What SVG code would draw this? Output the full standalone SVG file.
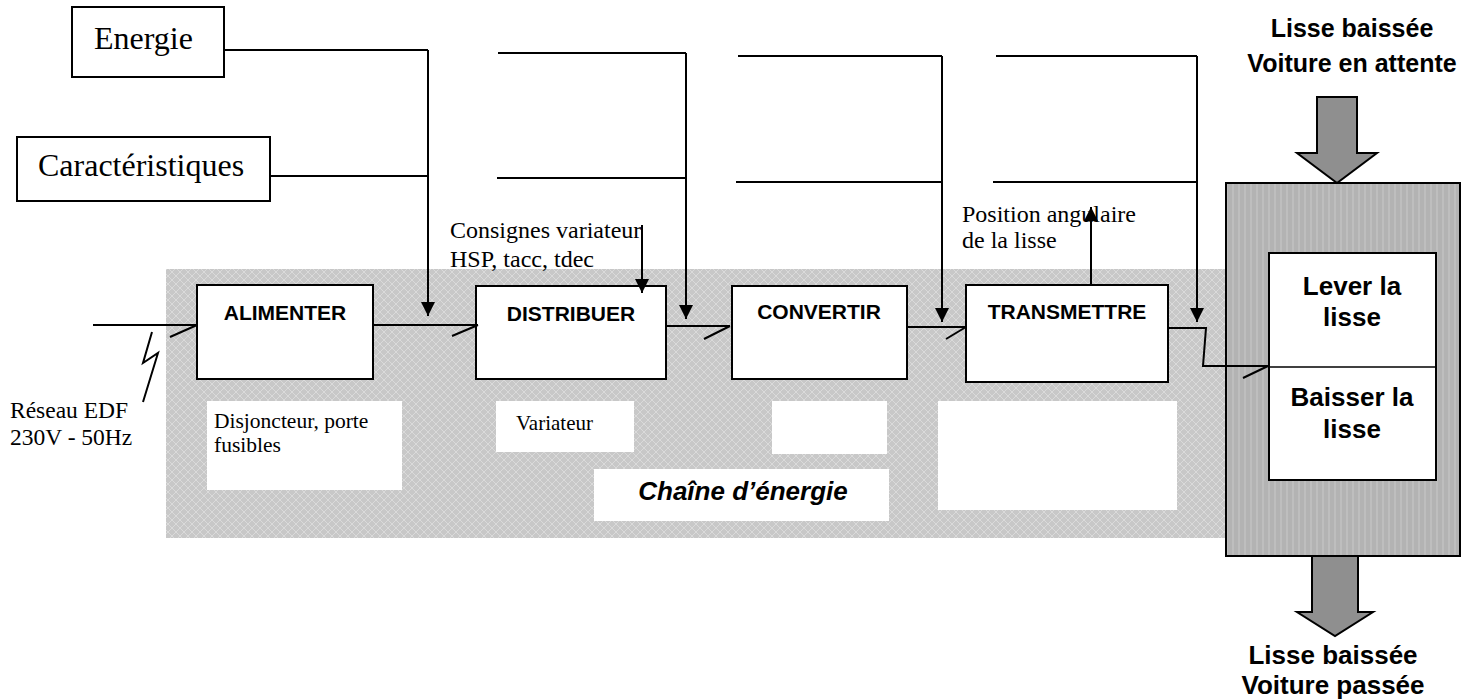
<svg xmlns="http://www.w3.org/2000/svg" width="1483" height="700" viewBox="0 0 1483 700">
<defs>
<style>
.box{fill:#fff;stroke:#000;stroke-width:2}
.ln{fill:none;stroke:#000;stroke-width:2}
.note{fill:#fff}
.serif{font-family:"Liberation Serif","Times New Roman",serif;fill:#000}
.sans{font-family:"Liberation Sans",Arial,sans-serif;font-weight:bold;fill:#000}
.big{fill:#8f8f8f;stroke:#000;stroke-width:2}
</style>
<pattern id="band" width="8" height="8" patternUnits="userSpaceOnUse">
<rect width="8" height="8" fill="#c8c8c8"/>
<path d="M0,4 L4,0 L8,4 L4,8 Z" fill="none" stroke="#dadada" stroke-width="1"/>
</pattern>
<pattern id="stripes" width="6" height="6" patternUnits="userSpaceOnUse">
<rect width="6" height="6" fill="#b3b3b3"/>
<path d="M3,0 V6" stroke="#c2c2c2" stroke-width="1.5"/>
</pattern>
<marker id="ah" viewBox="0 0 10 10" refX="10" refY="5" markerWidth="14" markerHeight="14" markerUnits="userSpaceOnUse" orient="auto">
<path d="M0,0 L10,5 L0,10 Z" fill="#000"/>
</marker>
</defs>
<rect width="1483" height="700" fill="#fff"/>

<g id="chaine-energie">
<rect x="166" y="269" width="1062" height="269" fill="url(#band)"/>
<rect class="note" x="594" y="469" width="295" height="52"/>
<text class="sans" x="743" y="500" font-size="26" font-style="italic" text-anchor="middle">Chaîne d’énergie</text>
</g>

<g id="energie">
<rect class="box" x="72" y="7" width="152" height="70"/>
<text class="serif" x="94" y="49" font-size="32">Energie</text>
</g>
<g id="caracteristiques">
<rect class="box" x="17" y="137" width="253" height="64"/>
<text class="serif" x="38" y="176" font-size="32">Caractéristiques</text>
</g>

<g id="alimenter">
<rect class="box" x="197" y="285" width="176" height="94"/>
<text class="sans" x="285" y="320" font-size="21" text-anchor="middle">ALIMENTER</text>
</g>
<g id="distribuer">
<rect class="box" x="476" y="286" width="190" height="93"/>
<text class="sans" x="571" y="321" font-size="21" text-anchor="middle">DISTRIBUER</text>
</g>
<g id="convertir">
<rect class="box" x="732" y="286" width="175" height="93"/>
<text class="sans" x="819" y="319" font-size="21" text-anchor="middle">CONVERTIR</text>
</g>
<g id="transmettre">
<rect class="box" x="966" y="285" width="202" height="97"/>
<text class="sans" x="1067" y="319" font-size="21" text-anchor="middle">TRANSMETTRE</text>
</g>

<g id="notes">
<rect class="note" x="207" y="401" width="195" height="89"/>
<text class="serif" x="214" y="428" font-size="21.5">Disjoncteur, porte</text>
<text class="serif" x="214" y="452" font-size="21.5">fusibles</text>
<rect class="note" x="496" y="401" width="138" height="51"/>
<text class="serif" x="516" y="430" font-size="21">Variateur</text>
<rect class="note" x="772" y="401" width="115" height="53"/>
<rect class="note" x="938" y="401" width="239" height="109"/>
</g>

<g id="labels">
<text class="serif" x="10" y="418" font-size="23.5">Réseau EDF</text>
<text class="serif" x="10" y="445" font-size="23.5">230V - 50Hz</text>
<text class="serif" x="450" y="238" font-size="24">Consignes variateur</text>
<text class="serif" x="450" y="267" font-size="24">HSP, tacc, tdec</text>
<text class="serif" x="962" y="222" font-size="24">Position angulaire</text>
<text class="serif" x="962" y="248" font-size="24">de la lisse</text>
</g>

<g id="operative">
<polygon class="big" points="1317,97 1357,97 1357,153 1377,153 1337,183 1297,153 1317,153"/>
<rect x="1226" y="183" width="234" height="373" fill="url(#stripes)" stroke="#000" stroke-width="2"/>
<polygon class="big" points="1312,556 1358,556 1358,612 1373,612 1335,636 1297,612 1312,612"/>
<rect class="box" x="1269" y="253" width="167" height="227"/>
<line x1="1269" y1="367" x2="1436" y2="367" stroke="#000" stroke-width="1.5"/>
<text class="sans" x="1352" y="295" font-size="26" text-anchor="middle">Lever la</text>
<text class="sans" x="1352" y="326" font-size="26" text-anchor="middle">lisse</text>
<text class="sans" x="1352" y="406" font-size="26" text-anchor="middle">Baisser la</text>
<text class="sans" x="1352" y="438" font-size="26" text-anchor="middle">lisse</text>
<text class="sans" x="1352" y="37" font-size="25" text-anchor="middle">Lisse baissée</text>
<text class="sans" x="1352" y="72" font-size="25" text-anchor="middle">Voiture en attente</text>
<text class="sans" x="1333" y="664" font-size="26" text-anchor="middle">Lisse baissée</text>
<text class="sans" x="1333" y="694" font-size="26" text-anchor="middle">Voiture passée</text>
</g>

<g id="connectors">
<path class="ln" d="M224,50 H428 M270,176 H428"/>
<path class="ln" d="M428,50 V316" marker-end="url(#ah)"/>
<path class="ln" d="M498,53 H686 M497,178 H686"/>
<path class="ln" d="M686,53 V319" marker-end="url(#ah)"/>
<path class="ln" d="M738,56 H942 M736,182 H942"/>
<path class="ln" d="M942,56 V322" marker-end="url(#ah)"/>
<path class="ln" d="M996,56 H1197 M993,182 H1197"/>
<path class="ln" d="M1197,56 V322" marker-end="url(#ah)"/>
<path class="ln" d="M642,225 V293" marker-end="url(#ah)"/>
<path class="ln" d="M1091,285 V207" marker-end="url(#ah)"/>
<path class="ln" d="M93,325 H197 M170,337 L197,325"/>
<path class="ln" d="M143,402 L158,353 L143,363 L152,332" stroke-width="1"/>
<path class="ln" d="M373,325 H478 M452,336 L478,325"/>
<path class="ln" d="M666,326 H730 M704,339 L730,326"/>
<path class="ln" d="M907,327 H966 M946,339 L966,327"/>
<path class="ln" d="M1168,328 H1206 L1203,366 H1268 M1243,378 L1268,366"/>
</g>
</svg>
